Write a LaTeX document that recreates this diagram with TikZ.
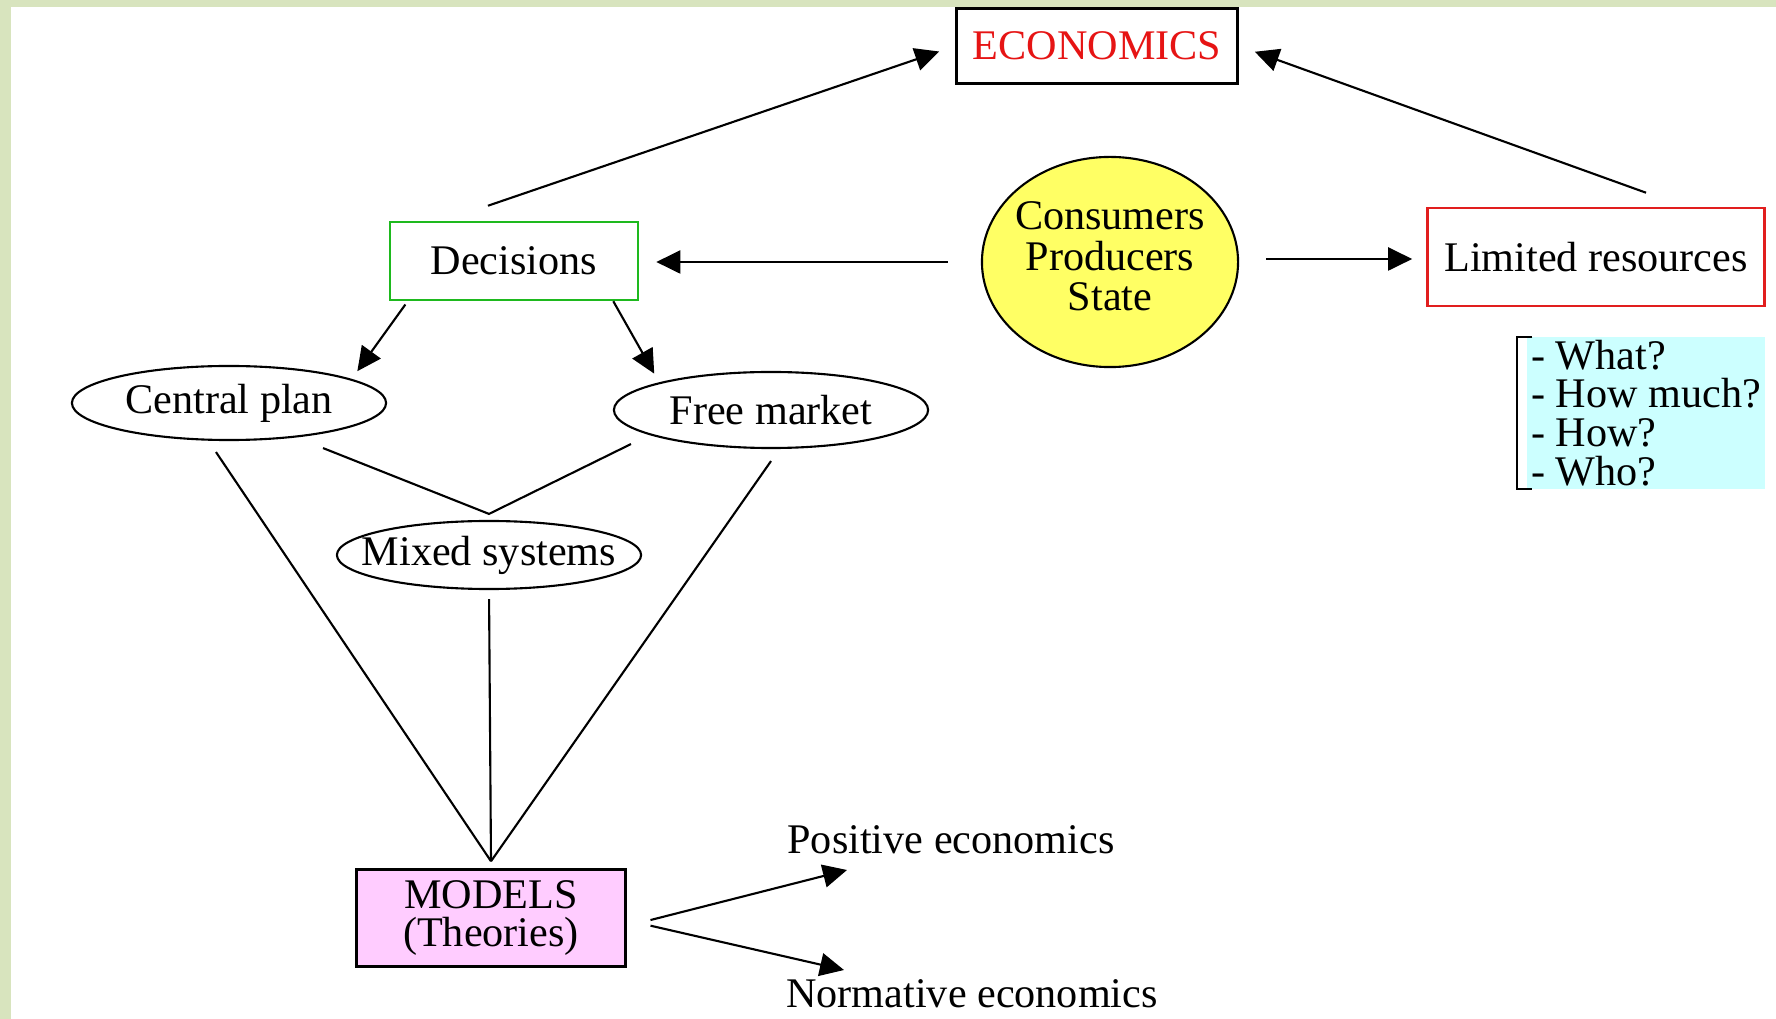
\documentclass[tikz,border=0pt]{standalone}
\usepackage{fontspec}
\setmainfont{Liberation Serif}
\usetikzlibrary{shapes.geometric,arrows.meta}

\definecolor{frameGreen}{RGB}{216,228,190}
\definecolor{econRed}{RGB}{230,20,20}
\definecolor{decGreen}{RGB}{30,185,30}
\definecolor{limRed}{RGB}{225,30,30}
\definecolor{actorYellow}{RGB}{255,255,100}
\definecolor{modelPink}{RGB}{255,204,255}
\definecolor{qCyan}{RGB}{204,255,255}

\tikzset{
    box/.style={draw, line width=0.7pt, inner sep=0pt},
    oval/.style={draw, ellipse, line width=0.6pt, inner sep=0pt},
    arr/.style={-{Triangle[length=0.24cm, width=0.23cm]}, line width=0.6pt},
    link/.style={line width=0.6pt}
}

\begin{document}
\begin{tikzpicture}[x=0.01cm, y=-0.01cm, font=\fontsize{12}{11}\selectfont]
        % Draw frame
        \fill[frameGreen] (0, 0) rectangle (1776, 1019);
        \fill[white] (11, 7) rectangle (1776, 1019);
        \useasboundingbox (0, 0) rectangle (1776, 1019);

        % Draw boxes
        \node[box, text=econRed, minimum width=2.81cm, minimum height=0.75cm] (econ) at (1097, 46) {ECONOMICS};
        \node[box, draw=decGreen, minimum width=2.48cm, minimum height=0.78cm] (dec) at (514, 261) {Decisions};
        \node[box, draw=limRed, minimum width=3.37cm, minimum height=0.98cm] (lim) at (1596, 257) {Limited resources};
        \node[box, fill=modelPink, minimum width=2.69cm, minimum height=0.97cm, align=center] (models) at (491, 918) {MODELS\\(Theories)};

        % Draw ovals
        \node[oval, fill=actorYellow, minimum width=2.56cm, minimum height=2.1cm] (actors) at (1110, 262)
            {\makebox[0pt]{\begin{tabular}{@{}c@{}}Consumers\\Producers\\State\end{tabular}}};
        \node[oval, minimum width=3.14cm, minimum height=0.74cm] (cplan) at (229, 403) {\makebox[0pt]{Central plan}};
        \node[oval, minimum width=3.14cm, minimum height=0.76cm] (fmkt) at (771, 410) {\makebox[0pt]{Free market}};
        \node[oval, minimum width=3.04cm, minimum height=0.68cm] (mixed) at (489, 555) {\makebox[0pt]{Mixed systems}};

        % Draw questions
        \node[fill=qCyan, minimum width=2.38cm, minimum height=1.51cm, inner xsep=0.02cm, inner ysep=0pt, align=left] (qs) at (1646, 413)
            {- What?\\- How much?\\- How?\\- Who?};
        \draw[line width=0.7pt] ([xshift=0.06cm]qs.north west) -- ([xshift=-0.09cm]qs.north west)
            -- ([xshift=-0.09cm]qs.south west) -- ([xshift=0.06cm]qs.south west);

        % Draw outcomes
        \node (pos) at (951, 840) {Positive economics};
        \node (norm) at (972, 994) {Normative economics};
        \coordinate (posend) at (847, 870);
        \coordinate (normend) at (844, 970);

        % Draw arrows
        \draw[arr, shorten >=0.17cm] ([xshift=-0.26cm, yshift=0.15cm]dec.north) -- (econ.west);
        \draw[arr, shorten >=0.17cm] ([xshift=0.5cm, yshift=0.14cm]lim.north) -- (econ.east);
        \draw[arr, shorten <=0.33cm, shorten >=0.17cm] (actors.west) -- (actors.west -| dec.east);
        \draw[arr, shorten <=0.27cm, shorten >=0.14cm] ([yshift=0.03cm]actors.east) -- ([yshift=0.03cm]actors.east -| lim.west);
        \draw[arr, shorten <=0.04cm, shorten >=0.06cm] ([xshift=0.19cm]dec.south west) -- ([xshift=0.13cm]cplan.north east);
        \draw[arr, shorten >=0.1cm] ([xshift=-0.26cm]dec.south east) -- (fmkt.north west);
        \draw[arr, shorten <=0.12cm] ([xshift=0.12cm, yshift=-0.05cm]models.east) -- (posend);
        \draw[arr, shorten <=0.12cm] ([xshift=0.12cm, yshift=-0.05cm]models.east) -- (normend);

        % Draw links
        \draw[link] ([xshift=0.94cm, yshift=-0.07cm]cplan.south) -- ([yshift=0.06cm]mixed.north)
            -- ([xshift=-1.4cm, yshift=0.05cm]fmkt.south);
        \draw[link] ([xshift=-0.13cm, yshift=-0.11cm]cplan.south) -- ([yshift=0.07cm]models.north);
        \draw[link, shorten <=0.09cm] (mixed.south) -- ([yshift=0.07cm]models.north);
        \draw[link] ([yshift=-0.12cm]fmkt.south) -- ([yshift=0.07cm]models.north);
\end{tikzpicture}
\end{document}
